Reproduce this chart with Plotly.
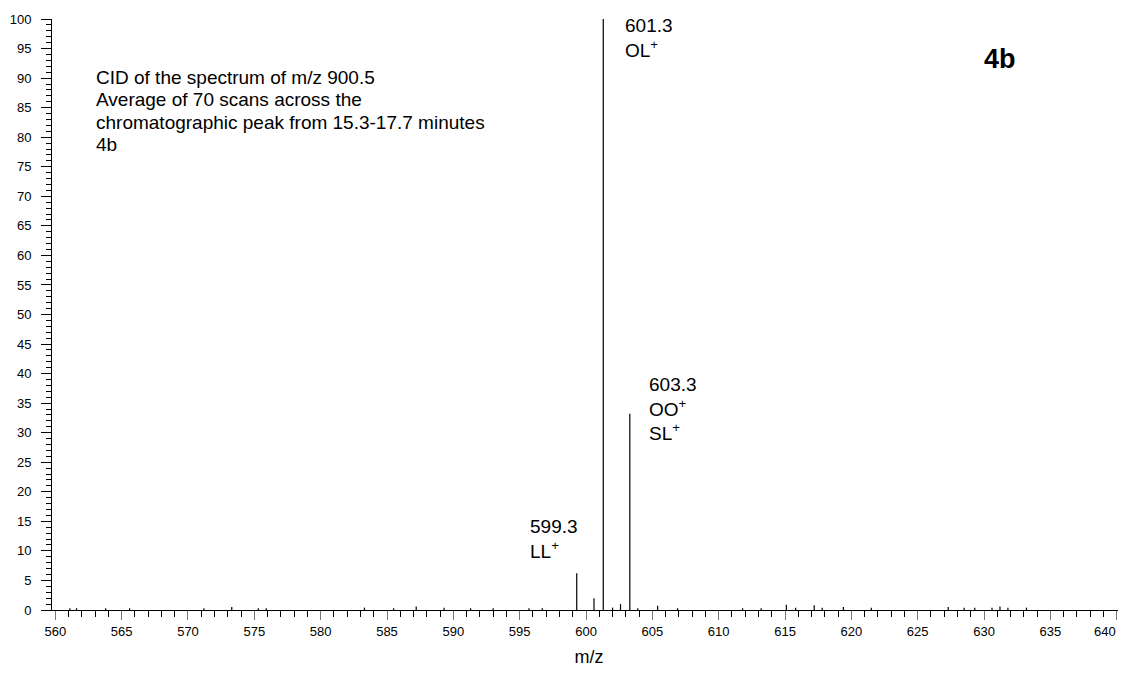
import plotly.graph_objects as go

# peak list (m/z, relative abundance %)
peak_mz = [561.1, 561.6, 563.8, 565.6, 571.2, 573.3, 575.3, 575.9, 583.3, 585.5,
           587.2, 589.3, 591.3, 593.0, 595.7, 596.7, 599.3, 600.6, 601.3, 602.0,
           602.6, 603.3, 603.9, 605.4, 606.9, 611.8, 613.2, 615.1, 615.8, 617.2,
           617.8, 619.4, 621.5, 627.3, 628.5, 629.3, 630.6, 631.2, 631.8, 633.2]
peak_int = [0.3, 0.3, 0.3, 0.3, 0.3, 0.5, 0.3, 0.3, 0.4, 0.3,
            0.6, 0.4, 0.3, 0.3, 0.3, 0.3, 6.2, 2.0, 100, 0.4,
            1.0, 33.2, 0.3, 0.7, 0.3, 0.3, 0.3, 0.9, 0.4, 0.8,
            0.4, 0.5, 0.4, 0.5, 0.4, 0.4, 0.4, 0.6, 0.4, 0.4]

# x tick labels
x_tickvals = list(range(560, 645, 5))
x_ticktext = [str(v) for v in x_tickvals]

# labelled peaks (x in m/z, y in % abundance)
label_text = ["601.3<br>OL<sup>+</sup>",
              "603.3<br>OO<sup>+</sup><br>SL<sup>+</sup>",
              "599.3<br>LL<sup>+</sup>"]
label_x = [602.8, 604.6, 595.6]
label_y = [101.0, 40.2, 16.2]

info_lines = ["CID of the spectrum of m/z 900.5",
              "Average of 70 scans across the",
              "chromatographic peak from 15.3-17.7 minutes",
              "4b"]

FONT = "Liberation Sans, Arial, sans-serif"

# the page body has an 8px margin, so the figure is shrunk to avoid scrolling
PW, PH = 1074, 591   # plot area in pixels

# stick spectrum: each peak is a vertical segment from 0 to its intensity
xs, ys = [], []
for m, h in zip(peak_mz, peak_int):
    xs += [m, m, None]
    ys += [0, h, None]

fig = go.Figure()
fig.add_trace(go.Scatter(x=xs, y=ys, mode="lines",
                         line=dict(color="black", width=1.2),
                         hoverinfo="skip", showlegend=False))

for t, x, y in zip(label_text, label_x, label_y):
    fig.add_annotation(x=x, y=y / 100, xref="x", yref="paper", text=t, showarrow=False,
                       xanchor="left", yanchor="top", align="left",
                       font=dict(size=19, color="black", family=FONT))

for i, line in enumerate(info_lines):
    fig.add_annotation(x=(94 - 52) / PW, y=1 - (65 + 22.3 * i - 19) / PH,
                       xref="paper", yref="paper", text=line,
                       showarrow=False, xanchor="left", yanchor="top", align="left",
                       font=dict(size=19, color="black", family=FONT))

fig.add_annotation(x=(982 - 52) / PW, y=1 - (42 - 19) / PH, xref="paper", yref="paper",
                   text="<b>4b</b>", showarrow=False, xanchor="left", yanchor="top",
                   font=dict(size=27, color="black", family=FONT))

# the last tick label sits right at the page edge; draw it nudged inwards
fig.add_annotation(x=x_tickvals[-1], y=0, xref="x", yref="paper", text=x_ticktext[-1],
                   showarrow=False, xanchor="right", yanchor="middle",
                   xshift=1, yshift=-21, font=dict(size=13, color="black", family=FONT))
x_ticktext[-1] = ""

fig.update_layout(
    width=1118, height=659,
    margin=dict(l=44, r=0, t=11, b=57),
    plot_bgcolor="white", paper_bgcolor="white",
    font=dict(family=FONT, size=13, color="black"),
)

fig.update_xaxes(
    range=[559.75, 640.7], tickmode="array", tickvals=x_tickvals, ticktext=x_ticktext,
    ticks="outside", ticklen=9, tickcolor="#777", tickwidth=1,
    minor=dict(dtick=1, tick0=560, ticks="outside", ticklen=6, tickcolor="black"),
    showline=True, linecolor="black", linewidth=1,
    showgrid=False, zeroline=False,
    tickfont=dict(size=13),
    title=dict(text="m/z", font=dict(size=18), standoff=17),
)
fig.update_yaxes(
    range=[0, 100], tick0=0, dtick=5,
    ticks="outside", ticklen=10, tickcolor="black", tickwidth=1,
    minor=dict(dtick=1, tick0=0, ticks="outside", ticklen=5, tickcolor="black"),
    showline=True, linecolor="black", linewidth=1,
    showgrid=False, zeroline=False, ticklabelstandoff=7,
    tickfont=dict(size=13),
)

fig.write_html("out.html")
